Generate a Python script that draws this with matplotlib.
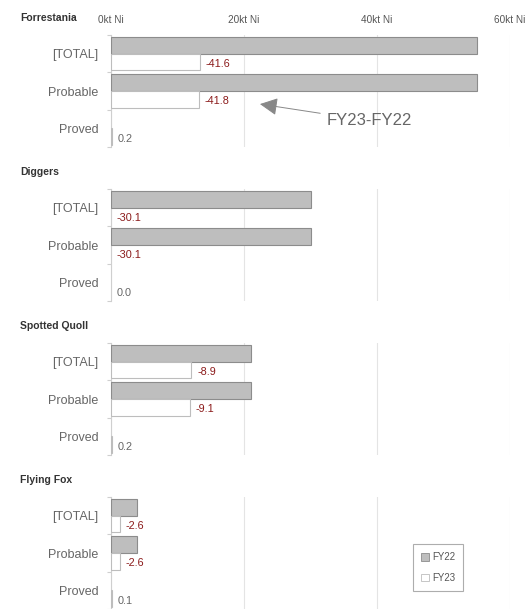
import matplotlib
matplotlib.use("Agg")
import matplotlib.pyplot as plt
from matplotlib.patches import Patch

plt.rcParams['font.family'] = ['Liberation Sans Narrow', 'Liberation Sans', 'DejaVu Sans']

# --- data (kt Ni)
mines = ["Forrestania", "Diggers", "Spotted Quoll", "Flying Fox"]
categories = ["[TOTAL]", "Probable", "Proved"]
fy22 = [[55.0, 55.0, 0.0],
        [30.1, 30.1, 0.0],
        [21.0, 21.0, 0.0],
        [3.9, 3.9, 0.0]]
fy23 = [[13.4, 13.2, 0.2],
        [0.0, 0.0, 0.0],
        [12.1, 11.9, 0.2],
        [1.3, 1.3, 0.1]]
xticks = [0, 20, 40, 60]
xlabels = ["0kt Ni", "20kt Ni", "40kt Ni", "60kt Ni"]

# --- style
W, H = 528, 609
c_fy22 = "#bebebe"
c_fy22_edge = "#8c8c8c"
c_fy23_edge = "#bdbdbd"
c_neg = "#8b1a1a"
c_pos = "#666666"
c_grid = "#e4e4e4"
bar_h = 0.45

fig = plt.figure(figsize=(W / 100, H / 100), dpi=100)

left_px, right_px = 111, 510
panel_tops = [35, 189, 343, 497]
panel_h = 112

for i, mine in enumerate(mines):
    top = panel_tops[i]
    ax = fig.add_axes([left_px / W, 1 - (top + panel_h) / H,
                       (right_px - left_px) / W, panel_h / H])
    ys = list(range(len(categories)))
    # zero-valued bars get no outline, so no stray line on the axis
    ax.barh([y - bar_h / 2 for y in ys], fy22[i], height=bar_h,
            color=c_fy22, edgecolor=c_fy22_edge,
            linewidth=[0.8 if v > 0 else 0 for v in fy22[i]], zorder=3)
    ax.barh([y + bar_h / 2 for y in ys], fy23[i], height=bar_h,
            color="white", edgecolor=c_fy23_edge,
            linewidth=[0.8 if v > 0 else 0 for v in fy23[i]], zorder=3)

    for y, a, b in zip(ys, fy22[i], fy23[i]):
        d = b - a
        ax.annotate(f"{d:.1f}", xy=(b, y + bar_h / 2 + 0.05),
                    xytext=(4, 0), textcoords="offset points",
                    ha="left", va="center", fontsize=7.8,
                    color=c_neg if d < 0 else c_pos, zorder=4)

    ax.set_xlim(0, 60)
    ax.set_ylim(2.5, -0.5)
    ax.set_yticks(ys)
    ax.set_yticklabels(categories, fontsize=9, color="#666666")
    ax.set_yticks([-0.5, 0.5, 1.5, 2.5], minor=True)
    ax.tick_params(axis="y", which="major", length=0, pad=9)
    ax.tick_params(axis="y", which="minor", length=3, color="#cfcfcf", width=0.8)

    ax.set_xticks(xticks)
    if i == 0:
        ax.xaxis.tick_top()
        ax.set_xticklabels(xlabels, fontsize=7.2, color="#555555")
        ax.tick_params(axis="x", length=0, pad=7.5)
    else:
        ax.tick_params(axis="x", length=0, labelbottom=False, labeltop=False)

    ax.grid(axis="x", color=c_grid, linewidth=0.8, zorder=0)
    ax.set_axisbelow(True)
    for s in ["top", "right", "bottom"]:
        ax.spines[s].set_visible(False)
    ax.spines["left"].set_color("#cfcfcf")
    ax.spines["left"].set_linewidth(0.8)

    fig.text(20 / W, 1 - (top - 17) / H, mine, fontsize=7.5, fontweight="bold",
             color="#333333", ha="left", va="center")

    if i == 0:
        ax.annotate("FY23-FY22", xy=(22.4, 1.35), xytext=(32.5, 1.8),
                    fontsize=12, color="#666666", ha="left", va="center",
                    arrowprops=dict(arrowstyle="-|>,head_length=0.9,head_width=0.45",
                                    color="#888888", lw=0.7, shrinkA=3, shrinkB=0))
    if i == len(mines) - 1:
        handles = [Patch(facecolor=c_fy22, edgecolor=c_fy22_edge, linewidth=0.6, label="FY22"),
                   Patch(facecolor="white", edgecolor=c_fy23_edge, linewidth=0.6, label="FY23")]
        leg = ax.legend(handles=handles, loc="center", bbox_to_anchor=(0.82, 0.37),
                        fontsize=7, frameon=True, fancybox=False, handlelength=0.8,
                        handleheight=0.8, handletextpad=0.3, borderpad=0.8,
                        labelspacing=1.1, labelcolor="#555555")
        leg.get_frame().set_edgecolor("#999999")
        leg.get_frame().set_linewidth(0.8)

fig.savefig("out.png", dpi=100)
